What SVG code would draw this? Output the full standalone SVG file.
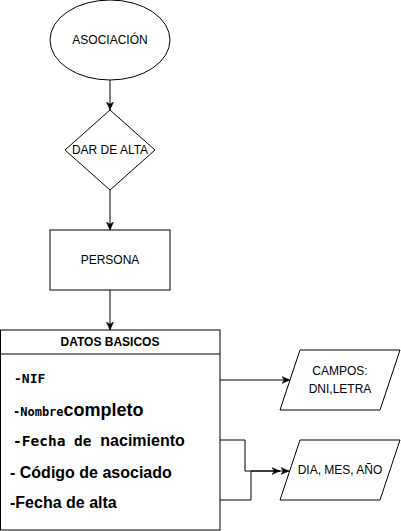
<svg xmlns="http://www.w3.org/2000/svg" width="401" height="531" viewBox="0 0 401 531">
<defs>
<style>
.shape{fill:#fff;stroke:#000;stroke-width:1}
.edge{fill:none;stroke:#000;stroke-width:1}
.lbl{font-family:"Liberation Sans",Arial,sans-serif;font-size:12px;fill:#000;text-anchor:middle;dominant-baseline:central}
.sans{font-family:"Liberation Sans",Arial,sans-serif;font-weight:bold;fill:#000}
.mono{font-family:"DejaVu Sans Mono","Liberation Mono",monospace;font-weight:bold;fill:#000}
</style>
<marker id="arr" viewBox="0 0 10 8" refX="9" refY="4" markerWidth="9" markerHeight="8" markerUnits="userSpaceOnUse" orient="auto">
<path d="M0,0 L9,4 L0,8 L2.5,4 Z" fill="#000" stroke="#000" stroke-width="0.5"/>
</marker>
</defs>
<rect width="401" height="531" fill="#fff"/>
<g id="connectors">
<path class="edge" d="M110,80 L110,110" marker-end="url(#arr)"/>
<path class="edge" d="M110,190 L110,230" marker-end="url(#arr)"/>
<path class="edge" d="M110,290 L110,330" marker-end="url(#arr)"/>
<path class="edge" d="M220,380 L290,380" marker-end="url(#arr)"/>
<path class="edge" d="M212,440 L245,440 L245,471 L289,471" marker-end="url(#arr)"/>
<path class="edge" d="M220,500 L251,500 L251,471 L280,471" marker-end="url(#arr)"/>
</g>
<g id="asociacion">
<ellipse class="shape" cx="110" cy="40" rx="60" ry="40"/>
<text class="lbl" x="110" y="40">ASOCIACIÓN</text>
</g>
<g id="dar-de-alta">
<polygon class="shape" points="110,110 155,150 110,190 65,150"/>
<text class="lbl" x="110" y="150">DAR DE ALTA</text>
</g>
<g id="persona">
<rect class="shape" x="50" y="230" width="120" height="60"/>
<text class="lbl" x="110" y="260">PERSONA</text>
</g>
<g id="datos-basicos">
<rect class="shape" x="0.5" y="330" width="219.5" height="200"/>
<line class="edge" x1="0.5" y1="354" x2="220" y2="354"/>
<text class="lbl" x="110" y="342" font-weight="bold">DATOS BASICOS</text>
<text x="14" y="383"><tspan class="mono" font-size="13">-NIF</tspan></text>
<text x="13" y="416"><tspan class="mono" font-size="12">-Nombre</tspan><tspan class="sans" font-size="18">completo</tspan></text>
<text x="13" y="446"><tspan class="mono" font-size="14.5">-Fecha de </tspan><tspan class="sans" font-size="16">nacimiento</tspan></text>
<text class="sans" x="10" y="478" font-size="16">- Código de asociado</text>
<text class="sans" x="10" y="508" font-size="16">-Fecha de alta</text>
</g>
<g id="campos">
<polygon class="shape" points="300,350 400,350 380,410 280,410"/>
<text class="lbl" x="340" y="371">CAMPOS:</text>
<text class="lbl" x="340" y="389">DNI,LETRA</text>
</g>
<g id="dia-mes-ano">
<polygon class="shape" points="300,440 400,440 380,500 280,500"/>
<text class="lbl" x="340" y="470">DIA, MES, AÑO</text>
</g>
</svg>
